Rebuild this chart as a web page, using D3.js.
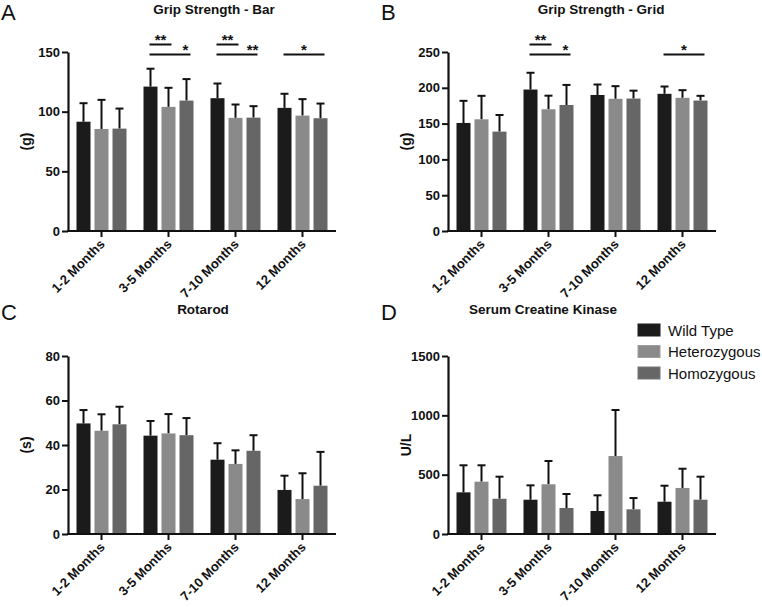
<!DOCTYPE html>
<html>
<head>
<meta charset="utf-8">
<script src="https://cdn.jsdelivr.net/npm/d3@7"></script>
<style>
  html, body { margin: 0; padding: 0; background: #fff; }
  svg { display: block; font-family: "Liberation Sans", Arial, sans-serif; }
</style>
</head>
<body>
<svg id="chart" width="762" height="607"></svg>
<script>
// ---------- data ----------
const categories = ["1-2 Months", "3-5 Months", "7-10 Months", "12 Months"];
const seriesNames = ["Wild Type", "Heterozygous", "Homozygous"];
const seriesColors = ["#1b1b1b", "#8a8a8a", "#666666"];

// Grip Strength - Bar (g)
const gripBarWT  = [91.6, 121.0, 111.3, 103.2];
const gripBarHet = [85.5, 104.0, 94.8, 96.7];
const gripBarHom = [85.8, 109.3, 95.0, 94.5];
const gripBarErrWT  = [15.5, 15.0, 12.3, 11.8];
const gripBarErrHet = [24.4, 16.0, 11.2, 13.8];
const gripBarErrHom = [16.8, 18.0, 9.6, 12.3];
const gripBarTicks = [0, 50, 100, 150];

// Grip Strength - Grid (g)
const gripGridWT  = [150.9, 197.6, 190.0, 191.6];
const gripGridHet = [156.0, 170.0, 184.6, 186.0];
const gripGridHom = [138.8, 176.0, 185.0, 182.2];
const gripGridErrWT  = [30.9, 23.4, 14.6, 10.2];
const gripGridErrHet = [32.8, 19.0, 17.7, 10.7];
const gripGridErrHom = [23.2, 28.0, 11.0, 6.6];
const gripGridTicks = [0, 50, 100, 150, 200, 250];

// Rotarod (s)
const rotarodWT  = [49.7, 44.2, 33.4, 19.8];
const rotarodHet = [46.4, 45.2, 31.5, 15.7];
const rotarodHom = [49.3, 44.4, 37.4, 21.7];
const rotarodErrWT  = [6.0, 6.6, 7.4, 6.4];
const rotarodErrHet = [7.4, 8.7, 6.1, 11.6];
const rotarodErrHom = [7.9, 7.7, 7.0, 15.2];
const rotarodTicks = [0, 20, 40, 60, 80];

// Serum Creatine Kinase (U/L)
const ckWT  = [351, 289, 194, 272];
const ckHet = [441, 419, 657, 388];
const ckHom = [297, 219, 208, 289];
const ckErrWT  = [228, 121, 132, 135];
const ckErrHet = [138, 196, 388, 162];
const ckErrHom = [186, 118, 95, 194];
const ckTicks = [0, 500, 1000, 1500];

// significance brackets: group, from series, to series, label, level (1 = lower, 2 = upper), label placement
const gripBarSig = [
  { group: "3-5 Months", from: 0, to: 1, label: "**", level: 2, pos: "mid" },
  { group: "3-5 Months", from: 0, to: 2, label: "*", level: 1, pos: "end" },
  { group: "7-10 Months", from: 0, to: 1, label: "**", level: 2, pos: "mid" },
  { group: "7-10 Months", from: 0, to: 2, label: "**", level: 1, pos: "end" },
  { group: "12 Months", from: 0, to: 2, label: "*", level: 1, pos: "mid" }
];
const gripGridSig = [
  { group: "3-5 Months", from: 0, to: 1, label: "**", level: 2, pos: "mid" },
  { group: "3-5 Months", from: 0, to: 2, label: "*", level: 1, pos: "end" },
  { group: "12 Months", from: 0, to: 2, label: "*", level: 1, pos: "mid" }
];

// ---------- layout ----------
const panels = [
  { letter: "A", title: "Grip Strength - Bar", titleX: 214, yLabel: "(g)",
    means: [gripBarWT, gripBarHet, gripBarHom], errs: [gripBarErrWT, gripBarErrHet, gripBarErrHom],
    ticks: gripBarTicks, sig: gripBarSig, x0: 68, x1: 336, yTop: 52, yBot: 231, ox: 0, oy: 0 },
  { letter: "B", title: "Grip Strength - Grid", titleX: 601, yLabel: "(g)",
    means: [gripGridWT, gripGridHet, gripGridHom], errs: [gripGridErrWT, gripGridErrHet, gripGridErrHom],
    ticks: gripGridTicks, sig: gripGridSig, x0: 448, x1: 716, yTop: 52, yBot: 231, ox: 380, oy: 0 },
  { letter: "C", title: "Rotarod", titleX: 203, yLabel: "(s)",
    means: [rotarodWT, rotarodHet, rotarodHom], errs: [rotarodErrWT, rotarodErrHet, rotarodErrHom],
    ticks: rotarodTicks, sig: [], x0: 68, x1: 336, yTop: 356, yBot: 534, ox: 0, oy: 300 },
  { letter: "D", title: "Serum Creatine Kinase", titleX: 543, yLabel: "U/L",
    means: [ckWT, ckHet, ckHom], errs: [ckErrWT, ckErrHet, ckErrHom],
    ticks: ckTicks, sig: [], x0: 448, x1: 716, yTop: 356, yBot: 534, ox: 380, oy: 300, legend: true }
];

const svg = d3.select("#chart");
const FONT = "'Liberation Sans', Arial, sans-serif";

panels.forEach(p => {
  const g = svg.append("g");
  const x = d3.scaleBand().domain(categories).range([p.x0, p.x1]).paddingInner(0).paddingOuter(0);
  const xs = d3.scaleBand().domain(d3.range(seriesNames.length))
    .range([-27, 27]).paddingInner(4 / 18).paddingOuter(2 / 18);
  const y = d3.scaleLinear().domain([0, d3.max(p.ticks)]).range([p.yBot, p.yTop]);

  // panel letter
  g.append("text").attr("x", p.ox + 1).attr("y", p.oy + 20)
    .attr("font-size", 22).attr("fill", "#111").text(p.letter);

  // title
  g.append("text").attr("x", p.titleX).attr("y", p.oy + 14)
    .attr("text-anchor", "middle").attr("font-size", 13.5).attr("font-weight", "bold")
    .attr("fill", "#111").text(p.title);

  // bars
  const rows = [];
  categories.forEach((c, ci) => {
    seriesNames.forEach((s, si) => {
      rows.push({ cat: c, si, mean: p.means[si][ci], err: p.errs[si][ci] });
    });
  });
  const cx = d => x(d.cat) + x.bandwidth() / 2 + xs(d.si) + xs.bandwidth() / 2;

  // error bars (up only)
  g.selectAll(".err").data(rows).join("line")
    .attr("x1", cx).attr("x2", cx)
    .attr("y1", d => y(d.mean)).attr("y2", d => y(d.mean + d.err))
    .attr("stroke", "#111").attr("stroke-width", 2);
  g.selectAll(".cap").data(rows).join("line")
    .attr("x1", d => cx(d) - 4).attr("x2", d => cx(d) + 4)
    .attr("y1", d => y(d.mean + d.err)).attr("y2", d => y(d.mean + d.err))
    .attr("stroke", "#111").attr("stroke-width", 2);

  g.selectAll(".bar").data(rows).join("rect")
    .attr("x", d => x(d.cat) + x.bandwidth() / 2 + xs(d.si))
    .attr("width", xs.bandwidth())
    .attr("y", d => y(d.mean))
    .attr("height", d => y(0) - y(d.mean))
    .attr("fill", d => seriesColors[d.si]);

  // y axis
  const yAxis = g.append("g").attr("transform", `translate(${p.x0},0)`)
    .call(d3.axisLeft(y).tickValues(p.ticks).tickFormat(d3.format("d"))
      .tickSize(6).tickSizeOuter(0).tickPadding(2));
  yAxis.select(".domain").attr("stroke", "#111").attr("stroke-width", 2.2);
  yAxis.selectAll(".tick line").attr("stroke", "#111").attr("stroke-width", 2);
  yAxis.selectAll(".tick text").attr("font-size", 13).attr("font-weight", "bold")
    .attr("fill", "#111").attr("font-family", FONT);

  // x axis
  const xAxis = g.append("g").attr("transform", `translate(0,${p.yBot})`)
    .call(d3.axisBottom(x).tickSize(6).tickSizeOuter(0));
  xAxis.select(".domain").attr("stroke", "#111").attr("stroke-width", 2.2)
    .attr("d", `M${p.x0 - 1},0H${p.x1}`);
  xAxis.selectAll(".tick line").attr("stroke", "#111").attr("stroke-width", 2);
  xAxis.selectAll(".tick text")
    .attr("font-size", 13).attr("font-weight", "bold").attr("fill", "#111")
    .attr("font-family", FONT)
    .attr("text-anchor", "end").attr("dy", null).attr("y", null)
    .attr("transform", "translate(4,14) rotate(-45)");

  // y label
  g.append("text")
    .attr("transform", `translate(${p.x0 - 42},${(p.yTop + p.yBot) / 2}) rotate(-90)`)
    .attr("text-anchor", "middle").attr("dy", "0.35em")
    .attr("font-size", 14).attr("font-weight", "bold").attr("fill", "#111")
    .text(p.yLabel);

  // significance brackets
  p.sig.forEach(s => {
    const gx = x(s.group) + x.bandwidth() / 2;
    const xa = gx + xs(s.from) + xs.bandwidth() / 2 - 1;
    const xb = gx + xs(s.to) + xs.bandwidth() / 2 + (s.to === 2 ? 4 : 3);
    const ly = p.yTop + (s.level === 1 ? 2.5 : -7.5);
    g.append("line").attr("x1", xa).attr("x2", xb).attr("y1", ly).attr("y2", ly)
      .attr("stroke", "#111").attr("stroke-width", 2);
    const lx = s.pos === "mid" ? (xa + xb) / 2 : gx + xs(s.to) + xs.bandwidth() / 2 - 1;
    g.append("text").attr("x", lx).attr("y", ly + 0.5)
      .attr("text-anchor", "middle").attr("font-size", 15).attr("font-weight", "bold")
      .attr("fill", "#111").text(s.label);
  });

  // legend
  if (p.legend) {
    const lg = g.append("g").attr("transform", "translate(638,324)");
    seriesNames.forEach((s, i) => {
      lg.append("rect").attr("x", 0).attr("y", i * 21.5).attr("width", 22).attr("height", 12)
        .attr("fill", seriesColors[i]).attr("stroke", d3.color(seriesColors[i]).brighter(0.4)).attr("stroke-width", 1);
      lg.append("text").attr("x", 30).attr("y", i * 21.5 + 11.5)
        .attr("font-size", 15).attr("fill", "#111").text(s);
    });
  }
});
</script>
</body>
</html>
